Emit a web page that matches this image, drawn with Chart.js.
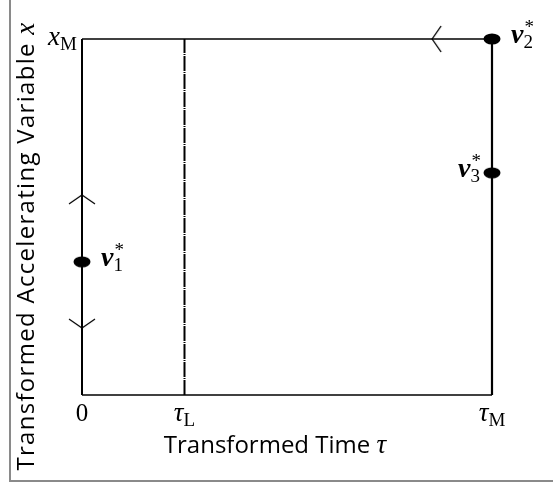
<!DOCTYPE html>
<html>
<head>
<meta charset="utf-8">
<script src="https://cdn.jsdelivr.net/npm/chart.js@4.4.1/dist/chart.umd.min.js"></script>
<style>
  html, body { margin:0; padding:0; background:#fff; }
</style>
</head>
<body>
<canvas id="chart" width="553" height="485"></canvas>
<script>
/* ===== data (normalised: time 0..tau_M, variable 0..x_M) ===== */
const xTicks = [0, 0.25, 1];
const xTickLabels = [['0', ''], ['τ', 'L'], ['τ', 'M']];
const yTicks = [1];
const yTickLabels = [['x', 'M']];

const xTitle = 'Transformed Time ';
const xTitleSym = 'τ';
const yTitle = 'Transformed Accelerating Variable ';
const yTitleSym = 'x';

const edgeBottom = [{x:0, y:0}, {x:1, y:0}];
const edgeTop = [{x:0, y:1}, {x:1, y:1}];
const edgeLeft = [{x:0, y:0}, {x:0, y:1}];
const edgeRight = [{x:1, y:0}, {x:1, y:1}];
const tauLLine = [{x:0.25, y:0}, {x:0.25, y:1}];

const equilibria = [{x:0, y:0.374}, {x:1, y:1}, {x:1, y:0.624}];
const equilibriumIdx = ['1', '2', '3'];
const labelSide = ['right', 'right', 'left'];

const arrowPts = [{x:0, y:0.562}, {x:0, y:0.188}, {x:0.854, y:1}];
const arrowRot = [0, 180, 270];

/* ===== marker images ===== */
function makeDot(){
  const c = document.createElement('canvas');
  c.width = 18; c.height = 12;
  const g = c.getContext('2d');
  g.fillStyle = '#000';
  g.beginPath(); g.ellipse(9, 6, 8.5, 5.5, 0, 0, Math.PI*2); g.fill();
  return c;
}
function makeChevron(){
  // apex at the centre, wings going down
  const c = document.createElement('canvas');
  c.width = 30; c.height = 22;
  const g = c.getContext('2d');
  g.strokeStyle = '#000'; g.lineWidth = 1.3;
  g.beginPath(); g.moveTo(2, 20); g.lineTo(15, 11); g.lineTo(28, 20); g.stroke();
  return c;
}
const dotImg = makeDot();
const chevImg = makeChevron();

/* ===== text helpers ===== */
const SERIF = '"Liberation Serif", "DejaVu Serif", serif';
const SANS = '"Open Sans", Lato, sans-serif';
const TITLE_FONT = '24px ' + SANS;

function mathLabel(ctx, base, baseFont, sub, sup, scriptFont, x, y, align){
  ctx.font = baseFont;
  const w0 = ctx.measureText(base).width;
  ctx.font = scriptFont;
  const ws = Math.max(sub ? ctx.measureText(sub).width : 0, sup ? ctx.measureText(sup).width : 0);
  const total = w0 + ws;
  let x0 = x;
  if(align === 'center') x0 = x - total/2;
  else if(align === 'right') x0 = x - total;
  ctx.textAlign = 'left';
  ctx.textBaseline = 'alphabetic';
  ctx.font = baseFont;
  ctx.fillText(base, x0, y);
  ctx.font = scriptFont;
  if(sup) ctx.fillText(sup, x0 + w0 + 1, y - 10);
  if(sub) ctx.fillText(sub, x0 + w0, y + 5);
}

const textPlugin = {
  id: 'textPlugin',
  beforeDraw(chart){
    const ctx = chart.ctx;
    ctx.save();
    ctx.strokeStyle = '#8a8a8a';
    ctx.lineWidth = 2;
    ctx.beginPath();
    ctx.moveTo(10, 0); ctx.lineTo(10, 481); ctx.lineTo(553, 481);
    ctx.stroke();
    ctx.restore();
  },
  afterDraw(chart){
    const ctx = chart.ctx;
    const xs = chart.scales.x, ys = chart.scales.y;
    ctx.save();
    ctx.fillStyle = '#000';

    // x tick labels
    xTicks.forEach((v, i)=>{
      const [b, s] = xTickLabels[i];
      const f = b === '0' ? '25px ' + SERIF : 'italic 27px ' + SERIF;
      mathLabel(ctx, b, f, s, '', '19px ' + SERIF, xs.getPixelForValue(v), ys.bottom + 26, 'center');
    });
    // y tick labels
    yTicks.forEach((v, i)=>{
      const [b, s] = yTickLabels[i];
      mathLabel(ctx, b, 'italic 27px ' + SERIF, s, '', '19px ' + SERIF, xs.left - 5, ys.getPixelForValue(v) + 6, 'right');
    });

    // x title
    ctx.font = TITLE_FONT;
    const wa = ctx.measureText(xTitle).width;
    ctx.font = 'italic 27px ' + SERIF;
    const wb = ctx.measureText(xTitleSym).width;
    let x0 = 275 - (wa + wb)/2;
    ctx.textAlign = 'left';
    ctx.font = TITLE_FONT; ctx.fillText(xTitle, x0, 453);
    ctx.font = 'italic 27px ' + SERIF; ctx.fillText(xTitleSym, x0 + wa, 453);

    // y title (rotated)
    ctx.save();
    ctx.translate(34, 246);
    ctx.rotate(-Math.PI/2);
    ctx.letterSpacing = '1.3px';
    ctx.font = TITLE_FONT;
    const ya = ctx.measureText(yTitle).width;
    ctx.font = 'italic 27px ' + SERIF;
    const yb = ctx.measureText(yTitleSym).width;
    x0 = -(ya + yb)/2;
    ctx.font = TITLE_FONT; ctx.fillText(yTitle, x0, 0);
    ctx.font = 'italic 27px ' + SERIF; ctx.fillText(yTitleSym, x0 + ya, 0);
    ctx.restore();

    // equilibrium labels v*_i
    equilibria.forEach((p, i)=>{
      const px = xs.getPixelForValue(p.x), py = ys.getPixelForValue(p.y);
      const right = labelSide[i] === 'right';
      mathLabel(ctx, 'v', 'bold italic 28px ' + SERIF, equilibriumIdx[i], '*', '19px ' + SERIF,
        right ? px + 19 : px - 12, py + 4, right ? 'left' : 'right');
    });
    ctx.restore();
  }
};

/* ===== chart ===== */
const lineDs = (data, width, dash)=>({
  data, showLine:true, borderColor:'#000', borderWidth:width, borderDash:dash || [],
  pointRadius:0, pointHoverRadius:0, clip:false, order:3
});

new Chart(document.getElementById('chart').getContext('2d'), {
  type: 'scatter',
  data: {
    datasets: [
      lineDs(edgeBottom, 1.6),
      lineDs(edgeTop, 1.5),
      lineDs(edgeLeft, 2),
      lineDs(edgeRight, 2.2),
      lineDs(tauLLine, 2, [15, 1, 1, 1]),
      { data: arrowPts, pointStyle: chevImg, rotation: arrowRot, pointRadius: 10, clip:false, order:2 },
      { data: equilibria, pointStyle: dotImg, pointRadius: 8, clip:false, order:1 }
    ]
  },
  options: {
    responsive: false,
    animation: false,
    events: [],
    layout: { padding: { left: 82, right: 61, top: 39, bottom: 90 } },
    scales: {
      x: { type:'linear', min:0, max:1, display:false },
      y: { type:'linear', min:0, max:1, display:false }
    },
    plugins: { legend: { display:false }, tooltip: { enabled:false } }
  },
  plugins: [textPlugin]
});
</script>
</body>
</html>
